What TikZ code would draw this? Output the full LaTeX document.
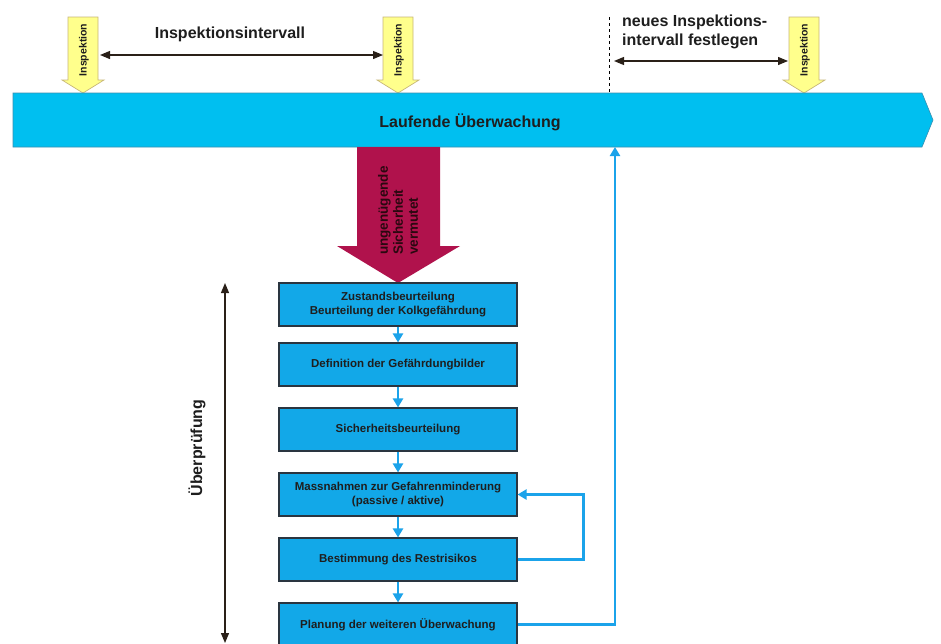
\documentclass[tikz,border=0pt]{standalone}
\usepackage{fontspec}
\setmainfont{Liberation Sans}
\usetikzlibrary{arrows.meta}
\definecolor{barcyan}{HTML}{00BFF0}
\definecolor{baredge}{HTML}{3A8FB0}
\definecolor{boxblue}{HTML}{12A8E8}
\definecolor{boxedge}{HTML}{2A3540}
\definecolor{flowblue}{HTML}{1BA3EA}
\definecolor{crimson}{HTML}{B0124C}
\definecolor{redtxt}{HTML}{2A0810}
\definecolor{yelfill}{HTML}{FFFF8C}
\definecolor{yeledge}{HTML}{C8B878}
\definecolor{txt}{HTML}{1E1E1E}
\definecolor{dimc}{HTML}{2A2018}
\tikzset{
  boxnode/.style={draw=boxedge, line width=1.1pt, fill=boxblue, minimum width=238pt, minimum height=43pt, inner sep=2pt, align=center, font=\fontsize{11.5}{14.5}\selectfont\bfseries, text=txt},
  flow/.style={draw=flowblue, line width=2.8pt, -{Triangle[length=9pt,width=10pt]}},
  dimarrow/.style={draw=dimc, line width=1.2pt, {Triangle[length=10pt,width=8pt]}-{Triangle[length=10pt,width=8pt]}},
  insp/.style={rotate=90, font=\fontsize{10.5}{12}\selectfont\bfseries, text=txt, inner sep=0pt},
  big/.style={font=\fontsize{16}{19}\selectfont\bfseries, text=txt},
  yarrow/.style={fill=yelfill, draw=yeledge, line width=0.7pt},
}
\begin{document}
\begin{tikzpicture}[x=1pt,y=-1pt]
\useasboundingbox (0,0) rectangle (941,643);
\fill[white] (0,0) rectangle (941,643);

% yellow inspection arrows
\foreach \c/\n in {83/ia,398/ib,804/ic}{
  \filldraw[yarrow] (\c-15,17) -- (\c+15,17) -- (\c+15,80) -- (\c+21,80) -- (\c,93) -- (\c-21,80) -- (\c-15,80) -- cycle;
  \node[insp] (\n) at (\c+1,50) {Inspektion};
}

% running monitoring bar
\filldraw[fill=barcyan, draw=baredge, line width=0.6pt] (13,93) -- (922,93) -- (933,120) -- (922,147) -- (13,147) -- cycle;
\node[big] (bar) at (470,122) {Laufende Überwachung};

% interval labels and arrows
\node[big] (iv) at (230,34) {Inspektionsintervall};
\coordinate (iva) at (100,55);
\coordinate (ivb) at (383,55);
\draw[dimarrow] (iva) -- (ivb);

\coordinate (d1) at (609,17);
\coordinate (d2) at (609,93);
\draw[dashed, line width=0.8pt, dash pattern=on 3pt off 3pt] (d1) -- (d2);
\node[big, align=left, anchor=west, inner sep=0pt] (neu) at (622,32) {neues Inspektions-\\intervall festlegen};
\coordinate (nva) at (614,61);
\coordinate (nvb) at (788,61);
\draw[dimarrow] (nva) -- (nvb);

% red arrow
\fill[crimson] (357,147) -- (440,147) -- (440,246) -- (460,246) -- (398,283) -- (337,246) -- (357,246) -- cycle;
\node[rotate=90, anchor=west, align=left, inner sep=0pt, font=\fontsize{13.5}{15}\selectfont\bfseries, text=redtxt] (red) at (398,255) {ungenügende\\Sicherheit\\vermutet};

% boxes
\node[boxnode] (b1) at (398,304.5) {Zustandsbeurteilung\\Beurteilung der Kolkgefährdung};
\node[boxnode] (b2) at (398,364.5) {Definition der Gefährdungbilder};
\node[boxnode] (b3) at (398,429.5) {Sicherheitsbeurteilung};
\node[boxnode] (b4) at (398,494.5) {Massnahmen zur Gefahrenminderung\\(passive / aktive)};
\node[boxnode] (b5) at (398,559.5) {Bestimmung des Restrisikos};
\node[boxnode] (b6) at (398,624.5) {Planung der weiteren Überwachung};

\foreach \a/\b in {b1/b2,b2/b3,b3/b4,b4/b5,b5/b6}{
  \draw[flow] (\a) -- (\b);
}
\draw[flow] (b5.east) -- ++(66,0) |- (b4.east);
\coordinate (barin) at (615,147);
\draw[flow] (b6.east) -| (barin);

% review arrow
\coordinate (ut) at (225,283);
\coordinate (ub) at (225,643);
\draw[dimarrow] (ut) -- (ub);
\node[big, rotate=90] (ue) at (197,448) {Überprüfung};
\end{tikzpicture}
\end{document}
